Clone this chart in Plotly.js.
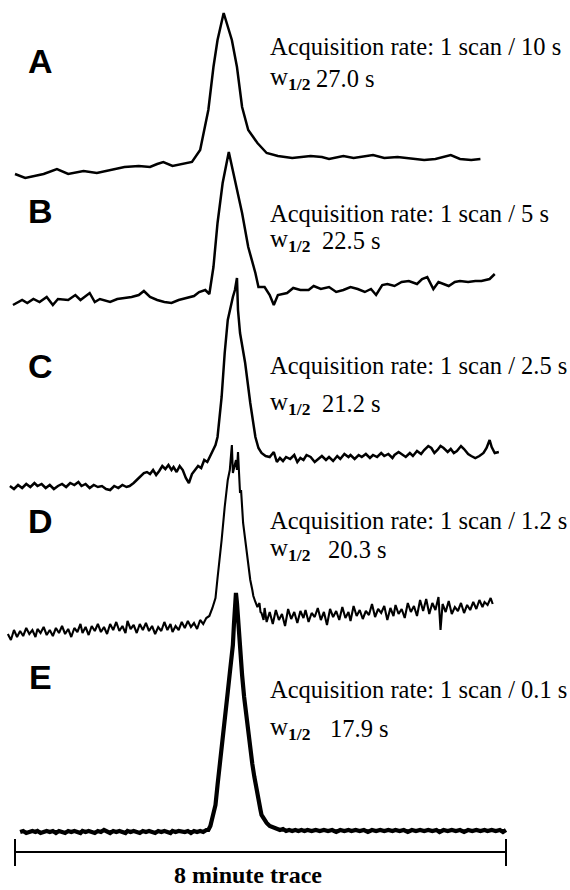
<!DOCTYPE html>
<html>
<head>
<meta charset="utf-8">
<script src="https://cdn.plot.ly/plotly-3.0.1.min.js"></script>
<style>
  html, body { margin: 0; padding: 0; background: #ffffff; }
  #chart { width: 570px; height: 890px; }
</style>
</head>
<body>
<div id="chart"></div>
<script>
// ---------------- DATA (time in s, signal in relative units) ----------------
const panelLabels = ['A', 'B', 'C', 'D', 'E'];
const rateLabels = ['1 scan / 10 s', '1 scan / 5 s', '1 scan / 2.5 s', '1 scan / 1.2 s', '1 scan / 0.1 s'];
const halfWidths = ['27.0 s', '22.5 s', '21.2 s', '20.3 s', '17.9 s'];
const traceDuration = 480; // 8 minute trace, seconds

const timeA = [0,10,28,41,52,67,80,93,107,121,132,139,145,154,164,173,181,189,194,198,
  204,212,217,222,228,237,246,257,271,289,300,307,321,331,350,361,374,389,400,411,426,435,446,455];
const signalA = [6,2,6,11,6,9,7,10,13,14,13,16,18,14,16,18,30,70,113,140,
  167,140,113,73,50,37,27,24,22,24,23,21,24,22,25,22,23,21,20,21,25,21,20,21];

const timeB = [-2,7,12,18,24,31,37,42,52,59,64,73,78,83,93,100,107,114,121,126,
  132,139,146,153,160,167,175,180,186,190,194,198,203,209,215,222,228,235,238,244,
  249,253,257,266,272,279,287,292,299,307,314,321,328,335,342,348,353,359,364,371,
  378,385,393,398,403,409,414,419,424,430,435,443,450,456,464,469];
const signalB = [5,10,7,11,8,13,5,11,10,15,10,17,8,11,8,11,12,13,15,19,
  13,10,8,7,10,12,14,18,20,16,43,87,127,158,130,97,63,37,23,23,
  15,5,15,17,22,20,20,24,21,23,18,20,23,21,18,21,15,25,26,24,
  28,29,26,31,33,21,28,26,24,28,29,28,29,29,31,36];

const timeC = [-5,-1,3,7,11,15,19,22,26,30,34,38,42,46,50,54,58,62,65,69,
  73,77,81,85,89,93,97,101,105,109,112,116,120,123,126,129,132,135,138,141,
  144,147,150,153,155,158,161,164,167,170,173,176,179,182,185,188,191,193,
  196,198,202,205,208,213,215,217,218,220,225,230,235,238,241,245,249,253,256,259,262,
  265,269,273,276,279,282,285,289,293,296,300,304,307,311,315,318,322,326,328,332,
  336,339,343,347,350,354,358,361,365,369,371,375,378,382,386,389,393,397,400,404,
  407,410,413,416,419,423,426,429,432,436,439,443,446,450,454,458,461,464,466,469,473];
const signalC = [4,1,5,2,6,3,7,4,6,2,5,1,4,6,3,7,5,8,4,6,
  2,5,3,4,1,0,4,2,5,3,4,7,11,14,17,18,16,20,15,19,
  24,21,25,20,23,18,24,20,12,7,16,20,24,22,30,28,35,38,
  45,53,93,137,170,193,200,212,180,157,127,87,53,42,37,34,33,38,28,32,29,
  33,31,35,28,32,30,35,33,28,31,34,30,33,29,34,31,36,33,35,31,
  35,33,36,32,35,33,37,34,36,32,35,38,36,33,37,34,39,36,40,44,
  42,37,40,44,42,38,41,37,39,44,41,36,34,32,34,37,42,50,43,37,38];

const timeD = [-7,-4,-1,2,5,8,11,14,17,20,22,25,28,31,34,37,40,43,46,49,
  52,55,58,61,64,66,69,72,75,78,81,84,87,90,93,96,99,102,105,108,
  110,113,116,119,122,125,128,131,134,137,140,143,146,149,152,154,157,160,163,166,
  169,172,175,178,181,184,187,190,
  193,196,198,200,202,205,208,210,212,213,215,216,217,218,220,221,223,225,227,229,
  230,232,233,235,237,239,240,241,243,244,
  246,249,252,255,258,261,264,267,270,273,276,279,282,284,287,290,293,296,299,302,
  305,308,311,314,317,320,323,326,328,331,334,337,340,343,346,349,352,355,358,361,
  364,367,370,372,375,378,381,384,387,390,393,396,399,402,405,408,411,414,416,418,
  421,424,427,430,433,436,439,442,445,448,451,454,457,459,462,465,467];
const signalD = [6,0,10,3,9,4,12,6,10,3,11,7,13,5,10,4,12,7,14,6,
  11,3,12,8,16,7,13,5,14,9,16,8,13,6,16,10,18,9,14,7,
  19,11,15,7,16,10,17,9,14,6,13,9,18,10,16,8,14,10,18,12,
  19,13,17,11,20,16,22,24,
  32,42,62,80,100,133,160,170,195,167,178,180,170,188,147,150,117,100,83,72,
  60,50,44,38,33,37,28,27,20,32,
  18,28,16,30,20,26,14,31,21,28,17,29,22,30,18,27,23,32,20,28,
  15,31,23,29,20,33,22,28,19,34,24,30,21,29,25,36,23,31,27,34,
  20,32,24,35,26,31,22,37,28,34,24,40,29,41,26,37,30,43,10,36,
  28,39,26,33,29,37,27,35,30,38,31,40,33,38,35,42,36];

const timeE = [5,8,11,14,17,20,22,25,28,31,34,37,40,43,46,49,52,55,58,61,
  64,66,69,72,75,78,81,84,87,90,93,96,99,102,105,108,110,113,116,119,
  122,125,128,131,134,137,140,143,146,149,152,154,157,160,163,166,169,172,175,178,
  181,184,187,
  189,191,193,196,198,200,202,205,208,210,212,213,214,215,216,217,218,219,220,222,
  224,226,228,230,232,234,236,238,240,241,243,246,249,253,
  256,259,262,265,268,271,274,277,280,283,
  286,290,294,298,302,306,310,314,318,322,326,329,333,337,341,345,349,353,357,361,
  365,369,372,376,380,384,388,392,396,400,404,408,412,415,419,423,427,431,435,439,
  443,447,451,455,459,462,466,470,474,477,480];
const signalE = [8,9,7,8,9,8,9,7,8,9,8,9,7,9,8,7,9,8,9,8,
  7,9,8,9,8,7,9,8,10,8,7,9,8,9,8,7,9,8,9,8,
  7,9,8,9,8,7,9,8,9,8,7,9,8,9,8,8,9,7,9,8,
  9,8,10,
  10,14,23,35,55,72,90,117,148,167,185,195,215,235,247,237,220,205,185,165,
  143,125,107,90,76,63,50,39,30,25,21,17,14,12,
  11,10,11,9,10,9,10,9,10,9,
  10,9,10,9,10,9,10,8,10,9,10,9,10,9,10,8,10,9,10,9,
  10,9,10,9,10,8,10,9,10,9,10,9,10,8,10,9,10,9,10,8,
  10,9,10,9,10,9,10,9,10,8,10];

// ---------------- LAYOUT HELPERS ----------------
const W = 570, H = 890;
const px2t = px => (px - 15) * 480 / 491;   // horizontal placement in seconds
const py2p = py => 1 - py / H;              // vertical placement in paper units

const times = [timeA, timeB, timeC, timeD, timeE];
const signals = [signalA, signalB, signalC, signalD, signalE];
const baselines = [180, 310, 490, 640, 840];   // pixel row of zero signal for each panel
const widths = [2.5, 2.5, 2.5, 2.1, 4.2];

const data = signals.map((s, i) => ({
  type: 'scatter', mode: 'lines',
  x: times[i], y: s,
  xaxis: 'x', yaxis: i === 0 ? 'y' : 'y' + (i + 1),
  line: { color: '#000000', width: widths[i], shape: 'linear' },
  hoverinfo: 'skip', showlegend: false
}));

const layout = {
  width: W, height: H,
  margin: { l: 0, r: 0, t: 0, b: 0, pad: 0 },
  paper_bgcolor: '#ffffff', plot_bgcolor: '#ffffff',
  showlegend: false,
  xaxis: { range: [px2t(0), px2t(W)], visible: false, fixedrange: true },
  annotations: [], shapes: []
};
baselines.forEach((b, i) => {
  const key = i === 0 ? 'yaxis' : 'yaxis' + (i + 1);
  layout[key] = { range: [b - H, b], domain: [0, 1], visible: false, fixedrange: true };
  if (i > 0) layout[key].overlaying = 'y';
});

const serif = 'Liberation Serif, Times New Roman, serif';
const sans = 'Liberation Sans, Arial, sans-serif';
const labelY = [61, 211, 366, 521, 677];
const line1Y = [46.6, 213.6, 365.6, 520.6, 689.6];
const line2Y = [78, 241, 403, 549, 728];
const valueX = [314, 320, 320, 326, 328];

panelLabels.forEach((lab, i) => {
  layout.annotations.push({
    xref: 'paper', yref: 'paper', x: 40 / W, y: py2p(labelY[i]),
    xanchor: 'center', yanchor: 'middle', showarrow: false,
    text: '<b>' + lab + '</b>', font: { family: sans, size: 34, color: '#000' }
  });
  layout.annotations.push({
    xref: 'paper', yref: 'paper', x: 268 / W, y: py2p(line1Y[i]),
    xanchor: 'left', yanchor: 'middle', showarrow: false,
    text: 'Acquisition rate: ' + rateLabels[i], font: { family: serif, size: 24.5, color: '#000' }
  });
  layout.annotations.push({
    xref: 'paper', yref: 'paper', x: 268 / W, y: py2p(line2Y[i]),
    xanchor: 'left', yanchor: 'middle', showarrow: false,
    text: 'w<sub><b>1/2</b></sub>', font: { family: serif, size: 25, color: '#000' }
  });
  layout.annotations.push({
    xref: 'paper', yref: 'paper', x: valueX[i] / W, y: py2p(line2Y[i]),
    xanchor: 'left', yanchor: 'middle', showarrow: false,
    text: halfWidths[i], font: { family: serif, size: 24.5, color: '#000' }
  });
});

// scale bar: 8 minute trace
layout.shapes.push(
  { type: 'line', xref: 'x', yref: 'paper', x0: 0, x1: traceDuration, y0: py2p(852), y1: py2p(852),
    line: { color: '#000', width: 2 } },
  { type: 'line', xref: 'x', yref: 'paper', x0: 0, x1: 0, y0: py2p(839), y1: py2p(866),
    line: { color: '#000', width: 2 } },
  { type: 'line', xref: 'x', yref: 'paper', x0: traceDuration, x1: traceDuration, y0: py2p(839), y1: py2p(866),
    line: { color: '#000', width: 2 } }
);
layout.annotations.push({
  xref: 'x', yref: 'paper', x: px2t(248), y: py2p(875),
  xanchor: 'center', yanchor: 'middle', showarrow: false,
  text: '<b>8 minute trace</b>', font: { family: serif, size: 24, color: '#000' }
});

Plotly.newPlot('chart', data, layout, { staticPlot: true, displayModeBar: false });
</script>
</body>
</html>
